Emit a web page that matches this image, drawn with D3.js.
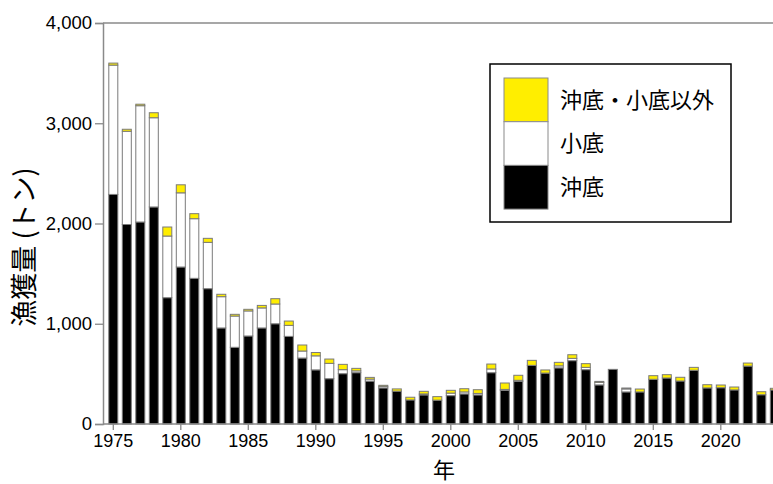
<!DOCTYPE html>
<html><head><meta charset="utf-8">
<script src="https://cdn.jsdelivr.net/npm/d3@7"></script>
<style>
html,body{margin:0;padding:0;background:#fff;overflow:hidden;}
svg{display:block;}
</style></head>
<body>
<svg id="chart" width="773" height="484"></svg>
<script>
const years = d3.range(1975, 2025);
// 沖底 (black)
const okisoko = [2290,1990,2015,2165,1260,1566,1453,1350,958,765,
  878,958,1000,874,658,540,452,502,512,428,
  360,328,240,290,238,283,300,290,512,335,
  424,585,508,560,632,542,390,545,320,320,
  446,459,429,536,360,362,340,578,292,340];
// 小底 (white)
const kosoko = [1290,930,1160,890,615,740,595,462,312,312,
  250,200,197,110,70,140,153,40,18,20,
  15,0,0,10,0,25,20,15,37,10,
  12,0,0,20,23,23,25,0,30,0,
  0,0,0,0,0,0,0,0,0,0];
// 沖底・小底以外 (yellow)
const other = [20,20,15,50,90,80,50,40,24,17,
  16,25,53,43,60,33,43,53,25,17,
  11,22,27,26,35,28,32,37,49,64,
  50,50,31,35,36,37,10,0,9,29,
  36,33,37,29,32,27,29,30,30,16];
const seriesNames = ["沖底", "小底", "沖底・小底以外"];
const seriesColors = ["#000000", "#ffffff", "#ffee00"];
const yTicks = [0, 1000, 2000, 3000, 4000];
const xTickYears = [1975, 1980, 1985, 1990, 1995, 2000, 2005, 2010, 2015, 2020];
const yTitle = "漁獲量 (トン)";
const xTitle = "年";

const svg = d3.select("#chart");
const axisLeftX = 103, plotTop = 23, plotBottom = 424, plotRight = 800;
const step = 13.5;
const x = d3.scaleBand().domain(years)
  .range([113.3 - step/2, 113.3 - step/2 + years.length*step])
  .paddingInner(0.333).paddingOuter(0.1665);
const y = d3.scaleLinear().domain([0, 4000]).range([plotBottom, plotTop]);

const rows = years.map((yr, i) => ({year: yr, v: [okisoko[i], kosoko[i], other[i]]}));
const stack = d3.stack().keys([0,1,2]).value((d, k) => d.v[k]);
const stacked = stack(rows);

const gBars = svg.append("g");
stacked.forEach((layer, k) => {
  gBars.selectAll(null).data(layer.filter(d => d[1] - d[0] > 0)).enter().append("rect")
    .attr("x", d => x(d.data.year))
    .attr("width", x.bandwidth())
    .attr("y", d => y(d[1]))
    .attr("height", d => y(d[0]) - y(d[1]))
    .attr("fill", seriesColors[k])
    .attr("stroke", "#7a7a7a")
    .attr("stroke-width", 1);
});

const axisColor = "#8a8a8a";
const font = "'Liberation Sans', Arial, sans-serif";
const cjk = "'Noto Sans CJK JP', sans-serif";

// top border
svg.append("line").attr("x1", axisLeftX).attr("x2", plotRight)
  .attr("y1", plotTop).attr("y2", plotTop)
  .attr("stroke", axisColor).attr("stroke-width", 1.5);

// y axis
const yAxis = svg.append("g").attr("transform", `translate(${axisLeftX},0)`)
  .call(d3.axisLeft(y).tickValues(yTicks).tickFormat(d3.format(",")).tickSize(8).tickPadding(3));
yAxis.select(".domain").attr("stroke", axisColor).attr("stroke-width", 1.5);
yAxis.selectAll(".tick line").attr("stroke", axisColor).attr("stroke-width", 1.3);
yAxis.selectAll(".tick text").attr("font-family", font).attr("font-size", 18.5).attr("fill", "#000");

// x axis
const xAxisG = svg.append("g").attr("transform", `translate(0,${plotBottom})`);
xAxisG.append("line").attr("x1", axisLeftX).attr("x2", plotRight).attr("y1", 0).attr("y2", 0)
  .attr("stroke", axisColor).attr("stroke-width", 1.5);
const xAxis = d3.axisBottom(x).tickValues(xTickYears).tickSize(6).tickPadding(4);
const xg = xAxisG.append("g").call(xAxis);
xg.select(".domain").remove();
xg.selectAll(".tick line").attr("stroke", axisColor).attr("stroke-width", 1.3);
xg.selectAll(".tick text").attr("font-family", font).attr("font-size", 18).attr("fill", "#000");

// titles
svg.append("text").attr("transform", "translate(34,247) rotate(-90)")
  .attr("text-anchor", "middle").attr("font-family", cjk).attr("font-size", 27)
  .attr("fill", "#000").text(yTitle);
svg.append("text").attr("x", 444).attr("y", 478)
  .attr("text-anchor", "middle").attr("font-family", cjk).attr("font-size", 22)
  .attr("fill", "#000").text(xTitle);

// legend
const lg = svg.append("g");
lg.append("rect").attr("x", 490).attr("y", 64).attr("width", 241).attr("height", 158)
  .attr("fill", "#fff").attr("stroke", "#000").attr("stroke-width", 1.5);
const legendOrder = [2, 1, 0];
legendOrder.forEach((k, j) => {
  const y0 = 78 + j*43.7;
  lg.append("rect").attr("x", 504).attr("y", y0).attr("width", 44).attr("height", 43.7)
    .attr("fill", seriesColors[k]).attr("stroke", "#8a8a8a").attr("stroke-width", 1);
  lg.append("text").attr("x", 560).attr("y", y0 + 22).attr("dy", "0.35em")
    .attr("font-family", cjk).attr("font-size", 22).attr("fill", "#000").text(seriesNames[k]);
});
</script>
</body></html>
